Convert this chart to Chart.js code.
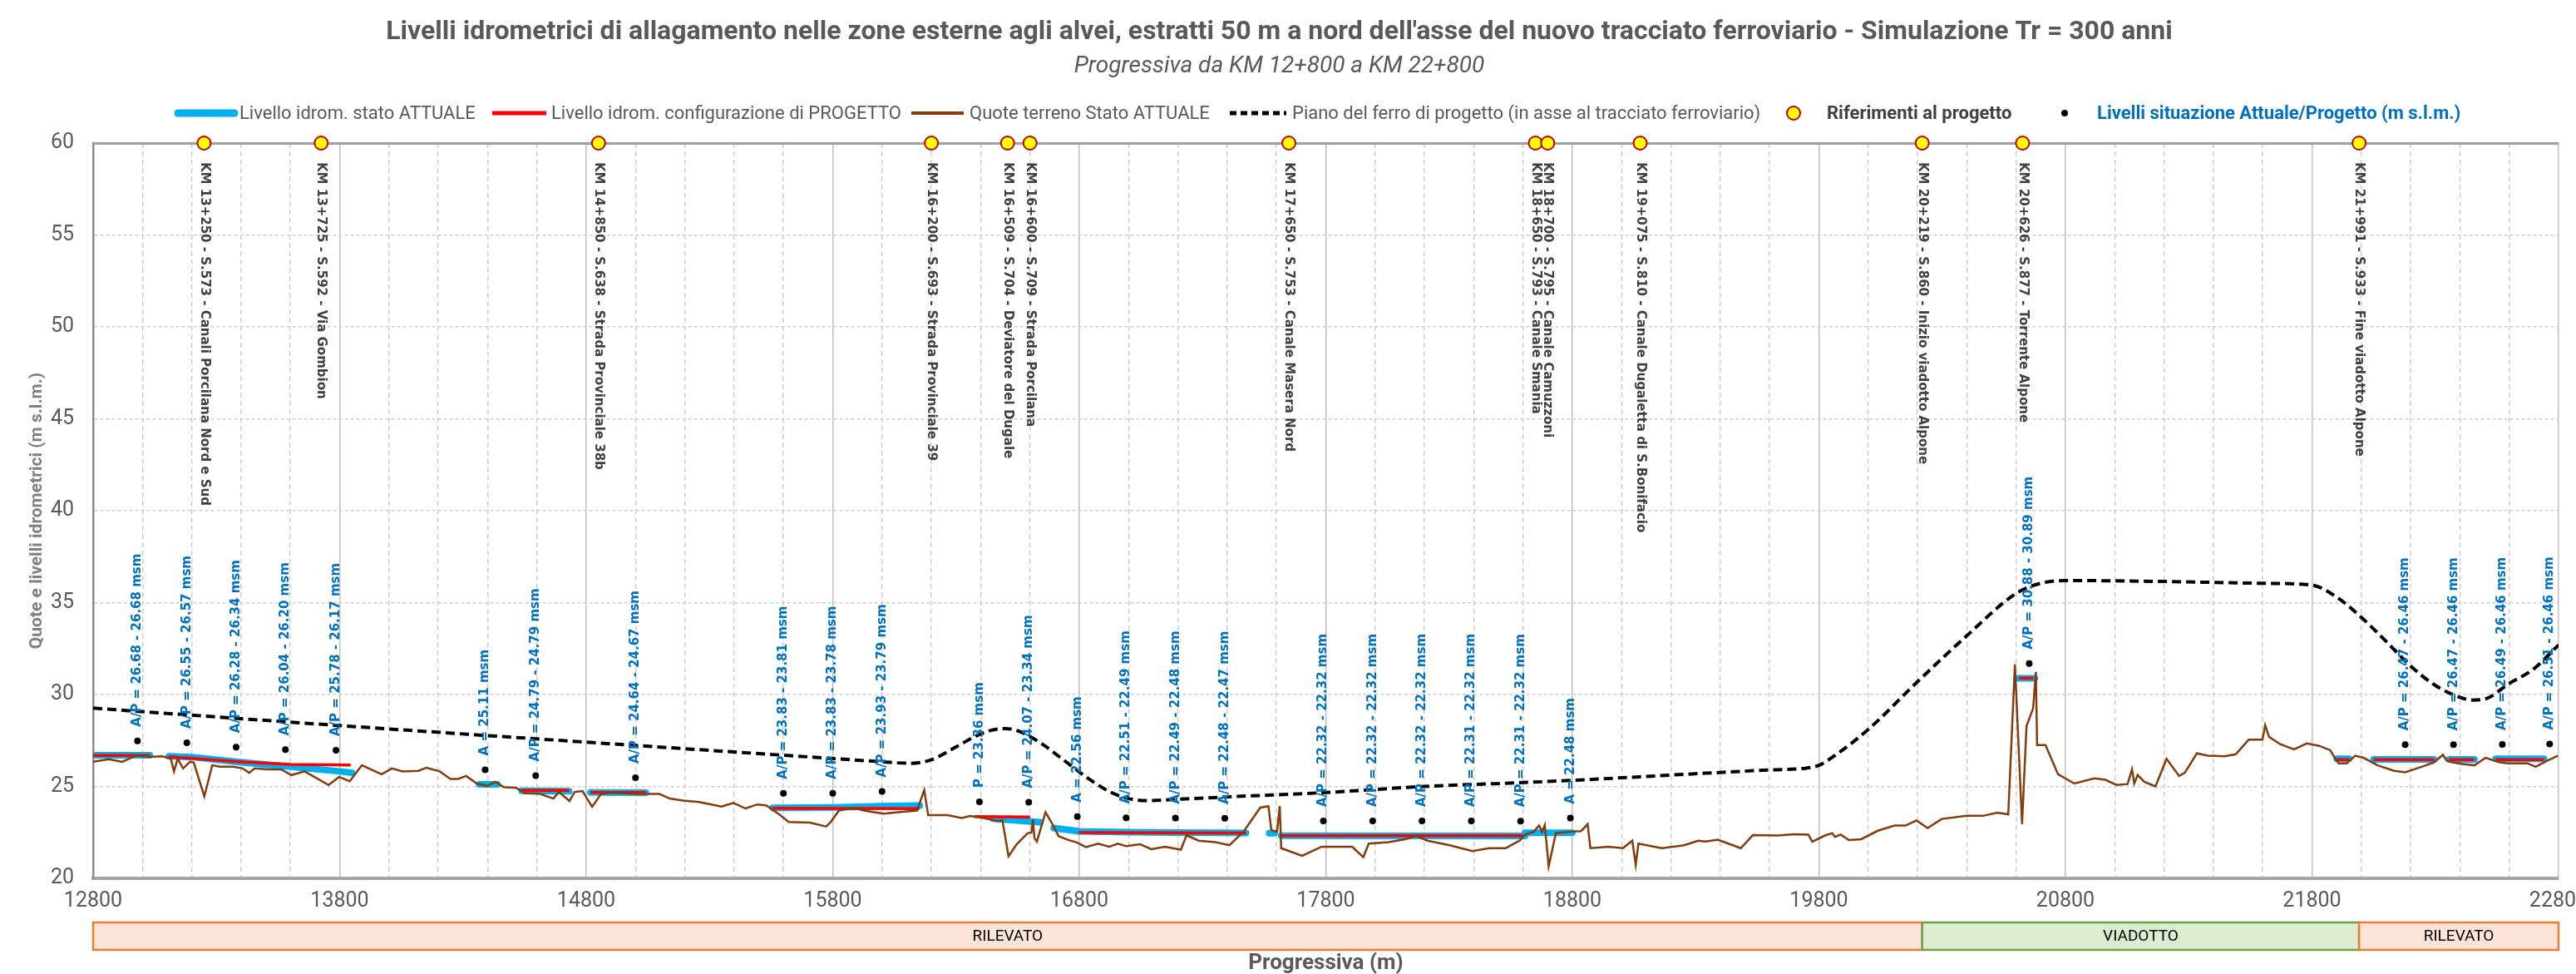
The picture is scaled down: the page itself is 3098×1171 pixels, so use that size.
<!DOCTYPE html>
<html>
<head>
<meta charset="utf-8">
<title>Livelli idrometrici - Tr 300 anni</title>
<script src="https://cdn.jsdelivr.net/npm/chart.js@4.4.1/dist/chart.umd.min.js"></script>
<style>
  html, body { margin: 0; padding: 0; background: #fff; }
  #wrap { width: 3098px; height: 1171px; }
</style>
</head>
<body>
<div id="wrap"><canvas id="grafico" width="3098" height="1171"></canvas></div>
<script>
// x tick labels (progressiva, m)
const etichetteX = [12800, 13800, 14800, 15800, 16800, 17800, 18800, 19800, 20800, 21800, 22800];

// Quote terreno stato attuale [progressiva, quota]
const terreno = [
  [12800,26.34],[12864,26.48],[12918,26.34],[12972,26.67],[13030,26.61],[13079,26.64],[13115,26.51],[13128,25.82],
  [13143,26.51],[13165,25.98],[13193,26.34],[13208,26.31],[13251,24.46],[13283,26.15],[13315,26.07],[13369,26.07],
  [13407,25.98],[13433,25.74],[13455,25.98],[13508,25.93],[13562,25.93],[13605,25.62],[13658,25.82],[13755,25.08],
  [13798,25.52],[13841,25.28],[13890,26.15],[13970,25.66],[14012,25.98],[14055,25.82],[14120,25.85],[14152,26.02],
  [14206,25.82],[14249,25.41],[14281,25.41],[14313,25.57],[14356,25.16],[14399,25.03],[14431,25.25],[14464,24.97],
  [14517,24.92],[14549,24.64],[14614,24.59],[14667,24.34],[14689,24.7],[14732,24.21],[14753,24.7],[14785,24.75],
  [14824,23.89],[14860,24.59],[14914,24.67],[15000,24.59],[15097,24.59],[15139,24.34],[15193,24.23],[15258,24.15],
  [15349,23.9],[15397,24.1],[15446,23.8],[15494,24.02],[15530,23.97],[15579,23.52],[15622,23.07],[15708,23.03],
  [15773,22.82],[15791,23.05],[15825,23.69],[15881,23.85],[15927,23.69],[16006,23.52],[16074,23.61],[16142,23.69],
  [16171,24.8],[16187,23.44],[16266,23.44],[16323,23.28],[16357,23.39],[16413,23.28],[16470,23.11],[16488,23.16],
  [16513,21.2],[16546,21.85],[16590,22.45],[16606,22.5],[16612,23.2],[16618,22.2],[16628,22.0],[16663,23.6],
  [16693,22.9],[16716,22.3],[16753,22.1],[16790,21.95],[16827,21.7],[16876,21.89],[16922,21.72],[16956,21.89],
  [16990,21.75],[17047,21.85],[17092,21.59],[17148,21.72],[17212,21.56],[17235,22.34],[17284,22.05],[17352,21.97],
  [17409,21.8],[17466,22.54],[17534,23.85],[17567,23.93],[17579,22.62],[17602,22.54],[17613,23.93],[17619,21.64],
  [17704,21.23],[17783,21.72],[17907,21.72],[17952,21.15],[17974,21.89],[18054,21.97],[18122,22.13],[18167,22.3],
  [18213,22.05],[18303,21.8],[18394,21.48],[18462,21.64],[18529,21.64],[18586,22.05],[18609,22.38],[18643,22.54],
  [18665,22.87],[18677,22.54],[18688,22.9],[18704,20.66],[18733,22.46],[18801,22.54],[18835,22.57],[18862,22.95],
  [18873,21.64],[18948,21.72],[19005,21.64],[19043,22.05],[19057,20.74],[19068,21.89],[19163,21.64],[19253,21.8],
  [19310,22.05],[19339,22.0],[19390,22.1],[19483,21.64],[19532,22.35],[19633,22.33],[19700,22.4],[19757,22.38],
  [19773,22.0],[19825,22.33],[19854,22.46],[19865,22.25],[19888,22.38],[19922,22.08],[19971,22.13],[20039,22.59],
  [20106,22.87],[20151,22.87],[20196,23.15],[20241,22.74],[20298,23.23],[20399,23.4],[20466,23.4],[20523,23.57],
  [20568,23.48],[20595,31.64],[20624,22.95],[20642,28.28],[20669,29.26],[20680,31.23],[20685,27.25],[20719,27.25],
  [20770,25.66],[20836,25.16],[20917,25.44],[20962,25.36],[21007,25.08],[21052,25.13],[21070,25.93],[21079,25.16],
  [21093,25.62],[21120,25.25],[21165,25.0],[21210,26.5],[21261,25.57],[21284,25.74],[21333,26.8],[21378,26.67],
  [21446,26.64],[21491,26.75],[21543,27.54],[21599,27.54],[21610,28.33],[21626,27.7],[21671,27.3],[21727,27.02],
  [21779,27.34],[21829,27.21],[21874,26.97],[21896,26.48],[21908,26.26],[21941,26.26],[21975,26.67],[22009,26.56],
  [22066,26.15],[22133,25.85],[22178,25.77],[22245,26.07],[22295,26.31],[22331,26.72],[22347,26.39],[22369,26.31],
  [22403,26.23],[22459,26.15],[22504,26.56],[22561,26.31],[22595,26.26],[22674,26.26],[22707,26.07],[22752,26.39],
  [22797,26.67]
];

// Piano del ferro di progetto
const ferro = [
  [12800,29.26],[13800,28.31],[14800,27.41],[15800,26.52],[16000,26.34],[16110,26.26],[16200,26.45],[16300,27.15],
  [16390,27.8],[16450,28.08],[16500,28.15],[16560,27.98],[16650,27.3],[16750,26.3],[16840,25.4],[16930,24.67],
  [17000,24.34],[17080,24.23],[17200,24.3],[17400,24.43],[17800,24.67],[18200,25.0],[18600,25.21],[18800,25.33],
  [19340,25.72],[19600,25.9],[19750,26.0],[19800,26.15],[19860,26.64],[20000,28.1],[20200,30.7],[20400,33.2],
  [20600,35.5],[20700,36.05],[20800,36.2],[21200,36.15],[21600,36.05],[21800,35.95],[21900,35.3],[22000,34.2],
  [22100,32.9],[22200,31.55],[22300,30.5],[22400,29.85],[22450,29.7],[22500,29.75],[22600,30.6],[22700,31.4],
  [22800,32.7]
];

// Livello idrometrico stato ATTUALE (tratti)
const attuale = [
  [[12800,26.70],[13030,26.70]],
  [[13107,26.64],[13200,26.60],[13400,26.31],[13600,26.07],[13800,25.82],[13851,25.74]],
  [[14366,25.11],[14440,25.11]],
  [[14538,24.76],[14731,24.74]],
  [[14817,24.67],[15042,24.66]],
  [[15557,23.84],[15800,23.86],[16000,23.93],[16153,23.96]],
  [[16450,23.25],[16640,23.05]],
  [[16696,22.74],[16800,22.56],[17000,22.51],[17200,22.49],[17400,22.48],[17476,22.47]],
  [[17570,22.45],[17592,22.45]],
  [[17619,22.32],[18608,22.31]],
  [[18608,22.48],[18800,22.48]],
  [[20608,30.88],[20676,30.88]],
  [[21900,26.50],[21950,26.50]],
  [[22050,26.47],[22295,26.47]],
  [[22356,26.47],[22459,26.47]],
  [[22545,26.50],[22741,26.51]]
];

// Livello idrometrico configurazione di PROGETTO (tratti)
const progetto = [
  [[12800,26.68],[13030,26.68]],
  [[13107,26.62],[13400,26.34],[13600,26.20],[13845,26.17]],
  [[14538,24.79],[14731,24.79]],
  [[14817,24.67],[15042,24.67]],
  [[15557,23.81],[16152,23.79]],
  [[16375,23.36],[16600,23.34]],
  [[16798,22.49],[17476,22.47]],
  [[17619,22.32],[18600,22.32]],
  [[20612,30.89],[20670,30.89]],
  [[21900,26.46],[21950,26.46]],
  [[22050,26.46],[22295,26.46]],
  [[22356,26.46],[22459,26.46]],
  [[22545,26.46],[22741,26.46]]
];

// Riferimenti al progetto
const riferimentiKm = [13250, 13725, 14850, 16200, 16509, 16600, 17650, 18650, 18700, 19075, 20219, 20626, 21991];
const riferimentiNomi = [
  'KM 13+250 - S.573 - Canali Porcilana Nord e Sud',
  'KM 13+725 - S.592 - Via Gombion',
  'KM 14+850 - S.638 - Strada Provinciale 38b',
  'KM 16+200 - S.693 - Strada Provinciale 39',
  'KM 16+509 - S.704 - Deviatore del Dugale',
  'KM 16+600 - S.709 - Strada Porcilana',
  'KM 17+650 - S.753 - Canale Masera Nord',
  'KM 18+650 - S.793 - Canale Smania',
  'KM 18+700 - S.795 - Canale Camuzzoni',
  'KM 19+075 - S.810 - Canale Dugaletta di S.Bonifacio',
  'KM 20+219 - S.860 - Inizio viadotto Alpone',
  'KM 20+626 - S.877 - Torrente Alpone',
  'KM 21+991 - S.933 - Fine viadotto Alpone'
];

// Livelli situazione Attuale/Progetto
const livelliKm = [12980, 13180, 13380, 13580, 13785, 14390, 14595, 15000, 15600, 15800, 16000, 16395, 16595, 16792,
  16990, 17190, 17390, 17790, 17990, 18190, 18390, 18590, 18792, 20653, 22178, 22374, 22572, 22764];
const livelliQuota = [27.48, 27.37, 27.14, 27.00, 26.97, 25.91, 25.59, 25.47, 24.63, 24.63, 24.73, 24.16, 24.14, 23.36,
  23.29, 23.28, 23.27, 23.12, 23.12, 23.12, 23.12, 23.11, 23.28, 31.68, 27.27, 27.27, 27.29, 27.31];
const livelliTesto = [
  'A/P = 26.68 - 26.68 msm', 'A/P = 26.55 - 26.57 msm', 'A/P = 26.28 - 26.34 msm', 'A/P = 26.04 - 26.20 msm',
  'A/P = 25.78 - 26.17 msm', 'A = 25.11 msm', 'A/P = 24.79 - 24.79 msm', 'A/P = 24.64 - 24.67 msm',
  'A/P = 23.83 - 23.81 msm', 'A/P = 23.83 - 23.78 msm', 'A/P = 23.93 - 23.79 msm', 'P = 23.36 msm',
  'A/P = 24.07 - 23.34 msm', 'A = 22.56 msm', 'A/P = 22.51 - 22.49 msm', 'A/P = 22.49 - 22.48 msm',
  'A/P = 22.48 - 22.47 msm', 'A/P = 22.32 - 22.32 msm', 'A/P = 22.32 - 22.32 msm', 'A/P = 22.32 - 22.32 msm',
  'A/P = 22.31 - 22.32 msm', 'A/P = 22.31 - 22.32 msm', 'A = 22.48 msm', 'A/P = 30.88 - 30.89 msm',
  'A/P = 26.47 - 26.46 msm', 'A/P = 26.47 - 26.46 msm', 'A/P = 26.49 - 26.46 msm', 'A/P = 26.51 - 26.46 msm'
];

// Tratti dell'opera sotto l'asse
const trattiDa = [12800, 20219, 21991];
const trattiA = [20219, 21991, 22800];
const trattiNome = ['RILEVATO', 'VIADOTTO', 'RILEVATO'];

const NARROW = "'Liberation Sans Narrow', 'Arial Narrow', 'Roboto', sans-serif";
const VERD = "'DejaVu Sans', Verdana, sans-serif";

function punti(coppie) {
  return coppie.map(p => ({x: p[0], y: p[1]}));
}

// join segments with a null point so the line breaks
function tratti(lista) {
  let out = [];
  lista.forEach((seg, i) => {
    if (i > 0) out.push({x: (lista[i - 1][lista[i - 1].length - 1][0] + seg[0][0]) / 2, y: null});
    out = out.concat(punti(seg));
  });
  return out;
}

const etichettePlugin = {
  id: 'etichette',
  afterDatasetsDraw(chart) {
    const ctx = chart.ctx;
    const top = chart.chartArea.top;

    ctx.save();
    ctx.font = 'bold 15px ' + VERD;
    ctx.textBaseline = 'middle';
    ctx.textAlign = 'left';

    ctx.fillStyle = '#404040';
    chart.getDatasetMeta(4).data.forEach((pt, i) => {
      ctx.save();
      ctx.translate(pt.x, top + 23);
      ctx.rotate(Math.PI / 2);
      ctx.fillText(riferimentiNomi[i], 0, 0);
      ctx.restore();
    });

    ctx.fillStyle = '#0070C0';
    chart.getDatasetMeta(5).data.forEach((pt, i) => {
      ctx.save();
      ctx.translate(pt.x, pt.y - 17);
      ctx.rotate(-Math.PI / 2);
      ctx.fillText(livelliTesto[i], 0, 0);
      ctx.restore();
    });
    ctx.restore();
  }
};

const trattiPlugin = {
  id: 'tratti',
  afterDraw(chart) {
    const ctx = chart.ctx;
    const xs = chart.scales.x;
    const y0 = chart.chartArea.bottom + 53;
    const h = 33;
    ctx.save();
    trattiNome.forEach((nome, i) => {
      const a = xs.getPixelForValue(trattiDa[i]);
      const b = xs.getPixelForValue(trattiA[i]);
      const via = nome === 'VIADOTTO';
      ctx.fillStyle = via ? '#dbeccf' : '#fce5d8';
      ctx.fillRect(a, y0, b - a, h);
      ctx.lineWidth = 2.5;
      ctx.strokeStyle = via ? '#6fa14c' : '#ED7D31';
      ctx.strokeRect(a, y0, b - a, h);
      ctx.fillStyle = '#000';
      ctx.font = '19px ' + NARROW;
      ctx.textAlign = 'center';
      ctx.textBaseline = 'middle';
      ctx.fillText(nome, (a + b) / 2, y0 + h / 2 + 1);
    });
    ctx.restore();
  }
};

const legendaPlugin = {
  id: 'legenda',
  afterDraw(chart) {
    const ctx = chart.ctx;
    const ds = chart.data.datasets;
    const y = 136;
    const voci = [
      {d: 1, tipo: 'linea', x0: 214, x1: 282, colore: '#00B0F0', w: 9, tx: 288},
      {d: 2, tipo: 'linea', x0: 592, x1: 657, colore: '#FF0000', w: 5, tx: 663},
      {d: 0, tipo: 'linea', x0: 1096, x1: 1159, colore: '#843C0C', w: 4, tx: 1166},
      {d: 3, tipo: 'tratteggio', x0: 1479, x1: 1547, colore: '#000', w: 5, tx: 1554},
      {d: 4, tipo: 'rif', x0: 2157, tx: 2197, bold: true, testo: '#404040'},
      {d: 5, tipo: 'punto', x0: 2483, tx: 2522, bold: true, testo: '#0070C0'}
    ];
    ctx.save();
    voci.forEach(v => {
      ctx.setLineDash([]);
      if (v.tipo === 'linea' || v.tipo === 'tratteggio') {
        ctx.beginPath();
        ctx.lineWidth = v.w;
        ctx.strokeStyle = v.colore;
        ctx.lineCap = v.d === 1 ? 'round' : 'butt';
        if (v.tipo === 'tratteggio') ctx.setLineDash([8, 5]);
        ctx.moveTo(v.x0, y);
        ctx.lineTo(v.x1, y);
        ctx.stroke();
      } else if (v.tipo === 'rif') {
        ctx.beginPath();
        ctx.arc(v.x0, y, 8, 0, Math.PI * 2);
        ctx.fillStyle = '#FFFF00';
        ctx.fill();
        ctx.lineWidth = 2;
        ctx.strokeStyle = '#C00000';
        ctx.stroke();
      } else {
        ctx.beginPath();
        ctx.arc(v.x0, y, 4, 0, Math.PI * 2);
        ctx.fillStyle = '#000';
        ctx.fill();
      }
      ctx.setLineDash([]);
      ctx.font = (v.bold ? 'bold ' : '') + '22px ' + NARROW;
      ctx.fillStyle = v.testo || '#595959';
      ctx.textAlign = 'left';
      ctx.textBaseline = 'middle';
      ctx.fillText(ds[v.d].label, v.tx, y + 1);
    });
    ctx.restore();
  }
};

const isMaggiore = v => etichetteX.includes(v);

new Chart(document.getElementById('grafico'), {
  type: 'line',
  data: {
    datasets: [
      {
        label: 'Quote terreno Stato ATTUALE',
        data: punti(terreno),
        borderColor: '#843C0C',
        borderWidth: 2.5,
        pointRadius: 0,
        order: 4
      },
      {
        label: 'Livello idrom. stato ATTUALE',
        data: tratti(attuale),
        borderColor: '#00B0F0',
        borderWidth: 8,
        borderCapStyle: 'round',
        borderJoinStyle: 'round',
        pointRadius: 0,
        spanGaps: false,
        order: 6
      },
      {
        label: 'Livello idrom. configurazione di PROGETTO',
        data: tratti(progetto),
        borderColor: '#FF0000',
        borderWidth: 3.5,
        pointRadius: 0,
        spanGaps: false,
        order: 5
      },
      {
        label: 'Piano del ferro di progetto (in asse al tracciato ferroviario)',
        data: punti(ferro),
        borderColor: '#000000',
        borderWidth: 4,
        borderDash: [11, 6],
        cubicInterpolationMode: 'monotone',
        pointRadius: 0,
        order: 3
      },
      {
        label: 'Riferimenti al progetto',
        data: riferimentiKm.map(x => ({x: x, y: 60})),
        showLine: false,
        pointRadius: 8,
        pointBackgroundColor: '#FFFF00',
        pointBorderColor: '#C00000',
        pointBorderWidth: 2,
        clip: false,
        order: 1
      },
      {
        label: 'Livelli situazione Attuale/Progetto (m s.l.m.)',
        data: livelliKm.map((x, i) => ({x: x, y: livelliQuota[i]})),
        showLine: false,
        pointRadius: 4,
        pointBackgroundColor: '#000',
        pointBorderColor: '#000',
        pointBorderWidth: 0,
        order: 2
      }
    ]
  },
  options: {
    responsive: false,
    animation: false,
    devicePixelRatio: 1,
    events: [],
    layout: { padding: { left: 0, right: 21, top: 0, bottom: 0 } },
    plugins: {
      legend: { display: false },
      tooltip: { enabled: false },
      title: {
        display: true,
        text: "Livelli idrometrici di allagamento nelle zone esterne agli alvei, estratti 50 m a nord dell'asse del nuovo tracciato ferroviario - Simulazione Tr = 300 anni",
        color: '#595959',
        font: { family: NARROW, size: 32, weight: 'bold', lineHeight: 1.2 },
        padding: { top: 20, bottom: 5 }
      },
      subtitle: {
        display: true,
        text: 'Progressiva da KM 12+800 a KM 22+800',
        color: '#595959',
        font: { family: NARROW, size: 28, style: 'italic', lineHeight: 1.2 },
        padding: { top: 0, bottom: 75 }
      }
    },
    scales: {
      x: {
        type: 'linear',
        min: 12800,
        max: 22800,
        afterFit: s => { s.height = 115; s.paddingRight = 0; s.paddingLeft = 0; },
        ticks: {
          stepSize: 200,
          autoSkip: false,
          maxTicksLimit: 100,
          maxRotation: 0,
          padding: 13,
          color: '#595959',
          font: { family: NARROW, size: 25 },
          callback: v => isMaggiore(v) ? String(v) : ''
        },
        grid: {
          drawTicks: false,
          color: c => (c.tick && isMaggiore(c.tick.value)) ? '#bfbfbf' : '#cfcfcf',
          lineWidth: 1.5
        },
        border: {
          color: '#a6a6a6',
          width: 4,
          dash: c => (c.tick && !isMaggiore(c.tick.value)) ? [6, 4] : []
        },
        title: {
          display: true,
          text: 'Progressiva (m)',
          color: '#595959',
          font: { family: NARROW, size: 26, weight: 'bold', lineHeight: 1 },
          padding: { top: 47, bottom: 0 }
        }
      },
      y: {
        min: 20,
        max: 60,
        afterFit: s => { s.width = 112; },
        ticks: {
          stepSize: 5,
          padding: 23,
          color: '#595959',
          font: { family: NARROW, size: 25 }
        },
        grid: {
          drawTicks: false,
          color: c => (c.tick && c.tick.value === 60) ? '#a0a0a0' : '#d0d0d0',
          lineWidth: c => (c.tick && c.tick.value === 60) ? 3 : 1.5
        },
        border: {
          color: '#8c8c8c',
          width: 2.5,
          dash: c => (c.tick && c.tick.value !== 60) ? [4, 3] : []
        },
        title: {
          display: true,
          text: 'Quote e livelli idrometrici (m s.l.m.)',
          color: '#7f7f7f',
          font: { family: NARROW, size: 21, weight: 'bold', lineHeight: 1.2 },
          padding: { top: 32, bottom: 0 }
        }
      }
    }
  },
  plugins: [etichettePlugin, trattiPlugin, legendaPlugin]
});
</script>
</body>
</html>
